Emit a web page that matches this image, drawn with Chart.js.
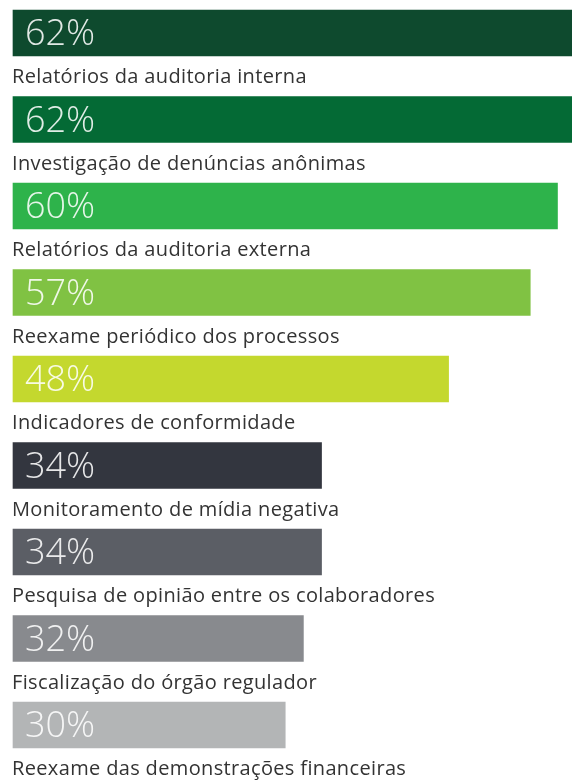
<!DOCTYPE html>
<html>
<head>
<meta charset="utf-8">
<script src="https://cdn.jsdelivr.net/npm/chart.js@4"></script>
<style>
    html, body { margin: 0; padding: 0; background: #ffffff; }
    #wrap { position: relative; width: 572px; height: 782px; }
</style>
</head>
<body>
<div id="wrap"><canvas id="grafico"></canvas></div>
<script>
// dados do gráfico
const categorias = [
    'Relatórios da auditoria interna',
    'Investigação de denúncias anônimas',
    'Relatórios da auditoria externa',
    'Reexame periódico dos processos',
    'Indicadores de conformidade',
    'Monitoramento de mídia negativa',
    'Pesquisa de opinião entre os colaboradores',
    'Fiscalização do órgão regulador',
    'Reexame das demonstrações financeiras'
];
const valores = [62, 62, 60, 57, 48, 34, 34, 32, 30];
const cores = [
    '#0e4a2e', // verde escuro
    '#046a35',
    '#2eb34b',
    '#80c243',
    '#c4d82e',
    '#33363f',
    '#5b5e65',
    '#888a8e',
    '#b3b5b6'
];

// escreve o valor dentro da barra e a categoria abaixo dela
const rotulos = {
    id: 'rotulos',
    afterDatasetsDraw(chart) {
        const ctx = chart.ctx;
        const meta = chart.getDatasetMeta(0);
        const xScale = chart.scales.x;
        ctx.save();
        meta.data.forEach(function (bar, i) {
            const y = bar.y;
            const x0 = xScale.getPixelForValue(0);
            ctx.textAlign = 'left';
            ctx.textBaseline = 'alphabetic';
            ctx.letterSpacing = '0px';
            ctx.fillStyle = 'rgba(255,255,255,0.88)';
            ctx.font = '300 36px "Open Sans"';
            ctx.fillText(valores[i] + '%', x0 + 12, y + 12);
            ctx.fillStyle = '#333333';
            ctx.font = '400 20px "Open Sans"';
            ctx.letterSpacing = '0.35px';
            ctx.fillText(categorias[i], x0 - 1, y + 50);
        });
        ctx.restore();
    }
};

function criarGrafico() {
    const ctx = document.getElementById('grafico').getContext('2d');
    new Chart(ctx, {
        type: 'bar',
        data: {
            labels: categorias,
            datasets: [{
                data: valores,
                backgroundColor: cores,
                borderWidth: 0,
                barThickness: 46,
                clip: false
            }]
        },
        options: {
            indexAxis: 'y',
            responsive: true,
            maintainAspectRatio: false,
            animation: false,
            layout: {
                padding: { top: 33, bottom: 57, left: 13, right: 0 }
            },
            plugins: {
                legend: { display: false },
                tooltip: { enabled: false }
            },
            scales: {
                x: {
                    display: false,
                    min: 0,
                    max: 61.6
                },
                y: {
                    display: false,
                    offset: false
                }
            }
        },
        plugins: [rotulos]
    });
}

Promise.all([
    document.fonts.load('300 36px "Open Sans"'),
    document.fonts.load('400 20px "Open Sans"')
]).then(criarGrafico, criarGrafico);
</script>
</body>
</html>
